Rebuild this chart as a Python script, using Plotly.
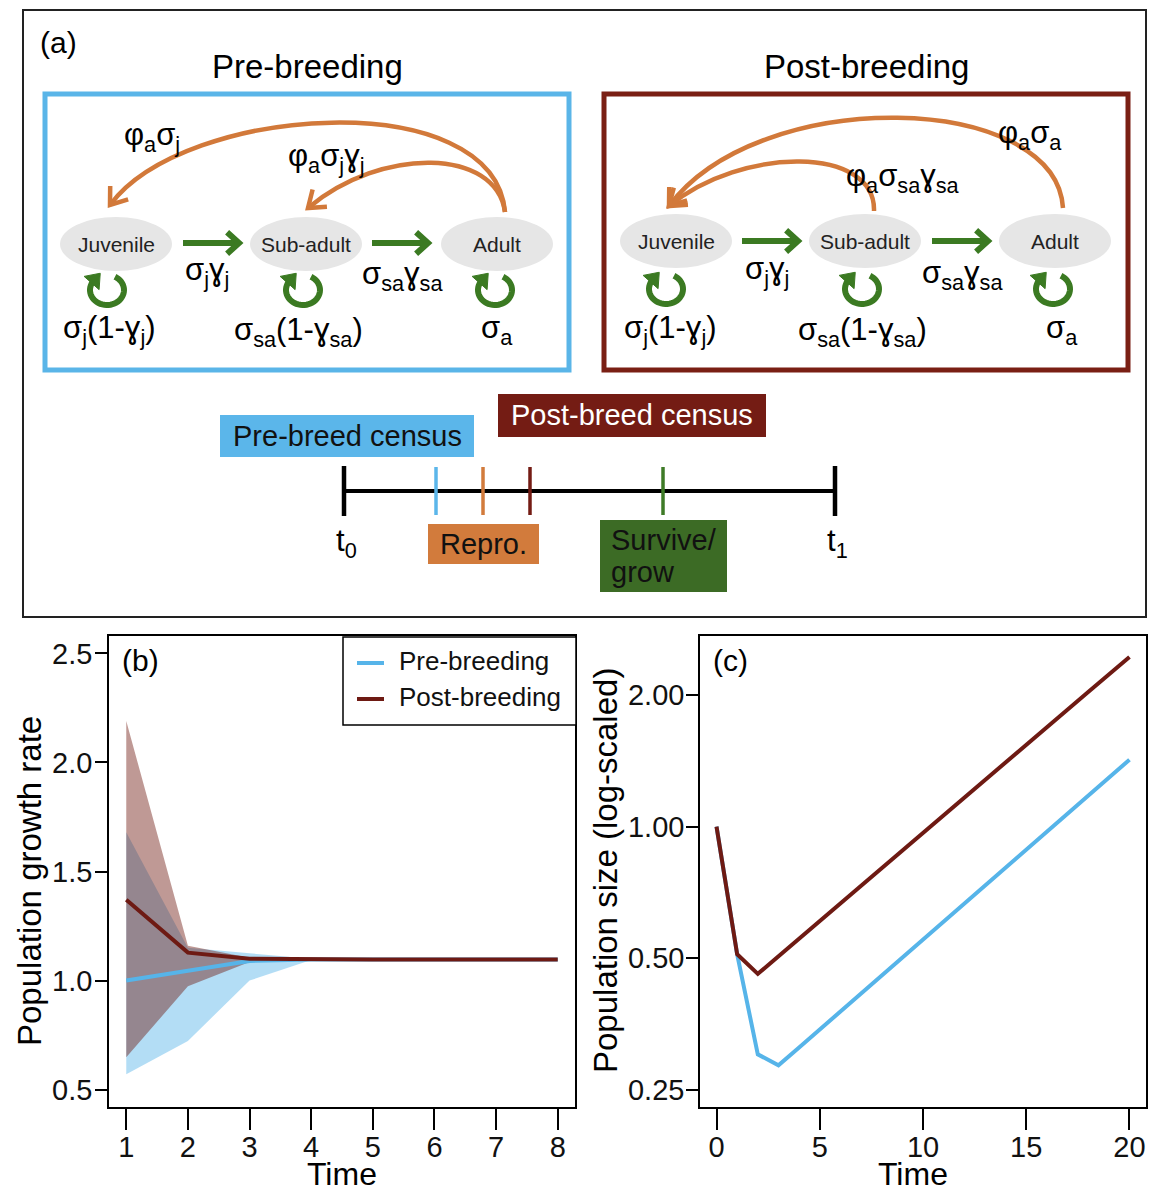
import math
import plotly.graph_objects as go

W, H = 1158, 1200          # reference canvas (pixels)
OFF = 8                    # page body margin
FW, FH = W - 2 * OFF, H - 2 * OFF
FONT = "Arial, 'Liberation Sans', Helvetica, sans-serif"

BLUE = "#56B4E9"
DRED = "#6E1A13"
ORANGE = "#D2793A"
GREEN = "#3B7A22"
ELL = "#E6E6E6"

# ---------------- data ----------------
time_b = [1, 2, 3, 4, 5, 6, 7, 8]
pre_mean = [1.00, 1.045, 1.09, 1.096, 1.096, 1.096, 1.096, 1.096]
pre_low = [0.57, 0.723, 1.00, 1.094, 1.096, 1.096, 1.096, 1.096]
pre_high = [1.68, 1.15, 1.125, 1.10, 1.096, 1.096, 1.096, 1.096]
post_mean = [1.37, 1.128, 1.10, 1.096, 1.096, 1.096, 1.096, 1.096]
post_low = [0.648, 0.974, 1.085, 1.096, 1.096, 1.096, 1.096, 1.096]
post_high = [2.19, 1.16, 1.105, 1.097, 1.096, 1.096, 1.096, 1.096]

time_c = list(range(0, 21))
pre_size = [1.00, 0.51, 0.301, 0.284, 0.312, 0.343, 0.377, 0.415, 0.456, 0.501,
            0.551, 0.606, 0.666, 0.733, 0.805, 0.886, 0.974, 1.071, 1.177, 1.294, 1.423]
post_size = [1.00, 0.51, 0.46, 0.505, 0.554, 0.608, 0.667, 0.732, 0.803, 0.882,
             0.967, 1.061, 1.165, 1.278, 1.403, 1.539, 1.689, 1.853, 2.034, 2.230, 2.447]

b_yticks = [0.5, 1.0, 1.5, 2.0, 2.5]
b_yticktext = ["0.5", "1.0", "1.5", "2.0", "2.5"]
c_yticks = [0.25, 0.5, 1.0, 2.0]
c_yticktext = ["0.25", "0.50", "1.00", "2.00"]
c_xticks = [0, 5, 10, 15, 20]

stages = ["Juvenile", "Sub-adult", "Adult"]
legend_names = ["Pre-breeding", "Post-breeding"]


# ---------------- helpers (page pixel -> paper) ----------------
def px(x):
    return (x - OFF) / FW


def py(y):
    return 1 - (y - OFF) / FH


def P(x, y):
    return f"{px(x):.5f},{py(y):.5f}"


shapes = []
annotations = []


def rect(x0, y0, x1, y1, line=None, lw=0, fill=None):
    shapes.append(dict(type="rect", xref="paper", yref="paper",
                       x0=px(x0), x1=px(x1), y0=py(y1), y1=py(y0),
                       line=dict(color=line or "rgba(0,0,0,0)", width=lw),
                       fillcolor=fill or "rgba(0,0,0,0)", layer="above"))


def ellipse(cx, cy, rx, ry, fill):
    shapes.append(dict(type="circle", xref="paper", yref="paper",
                       x0=px(cx - rx), x1=px(cx + rx), y0=py(cy + ry), y1=py(cy - ry),
                       line=dict(width=0, color="rgba(0,0,0,0)"), fillcolor=fill, layer="above"))


def pathshape(d, color, lw, fill=None):
    shapes.append(dict(type="path", xref="paper", yref="paper", path=d,
                       line=dict(color=color, width=lw),
                       fillcolor=fill or "rgba(0,0,0,0)", layer="above"))


def segment(x0, y0, x1, y1, color, lw):
    pathshape(f"M {P(x0, y0)} L {P(x1, y1)}", color, lw)


def chevron(tip, d, color, lw, L=16, ang=38):
    pts = []
    for s in (1, -1):
        a = math.radians(ang * s)
        rx_, ry_ = -d[0], -d[1]
        bx = rx_ * math.cos(a) - ry_ * math.sin(a)
        by = rx_ * math.sin(a) + ry_ * math.cos(a)
        pts.append((tip[0] + L * bx, tip[1] + L * by))
    pathshape(f"M {P(*pts[0])} L {P(*tip)} L {P(*pts[1])}", color, lw)


def bezier_arrow(p0, p1, p2, p3, color, lw=4.5):
    pathshape(f"M {P(*p0)} C {P(*p1)} {P(*p2)} {P(*p3)}", color, lw)
    dx, dy = p3[0] - p2[0], p3[1] - p2[1]
    n = math.hypot(dx, dy)
    chevron(p3, (dx / n, dy / n), color, lw, L=19, ang=36)


def straight_arrow(x0, x1, y, color=GREEN, lw=6):
    segment(x0, y, x1 - 2, y, color, lw)
    chevron((x1, y), (1, 0), color, lw, L=16, ang=42)


def loop(cx, cy=290, rx=17, ry=15, color=GREEN, lw=6):
    pts = []
    for i in range(41):
        a = math.radians(-62 + i * 280 / 40)
        pts.append((cx + rx * math.cos(a), cy + ry * math.sin(a)))
    pathshape("M " + " L ".join(P(x, y) for x, y in pts), color, lw)
    a = math.radians(218)
    tx, ty = -rx * math.sin(a), ry * math.cos(a)
    n = math.hypot(tx, ty)
    tx, ty = tx / n, ty / n
    ex, ey = pts[-1]
    tip = (ex + tx * 10, ey + ty * 10)
    b1 = (ex - tx * 3 + ty * 10, ey - ty * 3 - tx * 10)
    b2 = (ex - tx * 3 - ty * 10, ey - ty * 3 + tx * 10)
    pathshape(f"M {P(*tip)} L {P(*b1)} L {P(*b2)} Z", color, 1, fill=color)


def text(x, y, s, size, color="black", xanchor="center", align="center", angle=0):
    annotations.append(dict(x=px(x), y=py(y), xref="paper", yref="paper", text=s,
                            showarrow=False, xanchor=xanchor, yanchor="middle", align=align,
                            textangle=angle,
                            font=dict(size=size, color=color, family=FONT)))


# ---------------- panel (a) ----------------
rect(23, 10, 1146, 617, line="#222222", lw=2)
text(59, 42, "(a)", 30)
text(307, 66, "Pre-breeding", 33)
text(866, 66, "Post-breeding", 33)

rect(45, 94, 569, 370, line="#5AB5E8", lw=5)
rect(604, 94, 1128, 370, line="#7A1F14", lw=5)

pre_cx = [116, 306, 497]
post_cx = [676, 865, 1055]
for cx, name in zip(pre_cx, stages):
    ellipse(cx, 244, 56, 27, ELL)
    text(cx, 244, name, 21, color="#222222")
for cx, name in zip(post_cx, stages):
    ellipse(cx, 241, 56, 27, ELL)
    text(cx, 241, name, 21, color="#222222")

# green transitions
straight_arrow(183, 239, 243)
straight_arrow(372, 428, 243)
straight_arrow(742, 798, 241)
straight_arrow(932, 988, 241)

for cx in [107, 303, 495]:
    loop(cx)
for cx in [666, 862, 1053]:
    loop(cx, cy=289)

# orange fecundity arcs
bezier_arrow((505, 212), (494, 84), (185, 104), (110, 205), ORANGE)
bezier_arrow((505, 212), (496, 148), (382, 146), (308, 208), ORANGE)
bezier_arrow((1063, 208), (1056, 92), (760, 84), (669, 206), ORANGE)
bezier_arrow((874, 211), (876, 146), (742, 146), (669, 206), ORANGE)

SZ = 31
text(152, 137, "φ<sub>a</sub>σ<sub>j</sub>", SZ)
text(326, 158, "φ<sub>a</sub>σ<sub>j</sub>ɣ<sub>j</sub>", SZ)
text(207, 272, "σ<sub>j</sub>ɣ<sub>j</sub>", SZ)
text(402, 276, "σ<sub>sa</sub>ɣ<sub>sa</sub>", SZ)
text(110, 330, "σ<sub>j</sub>(1-ɣ<sub>j</sub>)", SZ)
text(298, 332, "σ<sub>sa</sub>(1-ɣ<sub>sa</sub>)", SZ)
text(497, 330, "σ<sub>a</sub>", SZ)

text(1030, 135, "φ<sub>a</sub>σ<sub>a</sub>", SZ)
text(903, 178, "φ<sub>a</sub>σ<sub>sa</sub>ɣ<sub>sa</sub>", SZ)
text(767, 271, "σ<sub>j</sub>ɣ<sub>j</sub>", SZ)
text(962, 275, "σ<sub>sa</sub>ɣ<sub>sa</sub>", SZ)
text(670, 330, "σ<sub>j</sub>(1-ɣ<sub>j</sub>)", SZ)
text(862, 332, "σ<sub>sa</sub>(1-ɣ<sub>sa</sub>)", SZ)
text(1062, 330, "σ<sub>a</sub>", SZ)

# timeline
rect(220, 415, 474, 457, fill="#5BB6EA")
text(347, 436, "Pre-breed census", 29, color="#111111")
rect(498, 394, 766, 437, fill="#741C14")
text(632, 415, "Post-breed census", 29, color="white")
rect(428, 524, 539, 564, fill="#D27B3C")
text(483, 544, "Repro.", 29, color="#111111")
rect(600, 520, 727, 592, fill="#3C6B25")
text(609, 540, "Survive/", 29, color="#111111", xanchor="left", align="left")
text(609, 572, "grow", 29, color="#111111", xanchor="left", align="left")

segment(344, 491, 835, 491, "black", 4)
segment(344, 466, 344, 516, "black", 4.5)
segment(835, 466, 835, 516, "black", 4.5)
segment(436, 467, 436, 515, "#5BB6EA", 3.5)
segment(483, 467, 483, 515, "#D27B3C", 3.5)
segment(530, 467, 530, 515, "#741C14", 3.5)
segment(663, 467, 663, 515, "#3E7B27", 3.5)
text(346, 543, "t<sub>0</sub>", 31)
text(837, 543, "t<sub>1</sub>", 31)

# ---------------- panels (b) and (c) ----------------
fig = go.Figure()

fig.add_trace(go.Scatter(x=time_b + time_b[::-1], y=pre_high + pre_low[::-1], fill="toself",
                         fillcolor="rgba(86,180,233,0.45)", line=dict(width=0),
                         mode="lines", hoverinfo="skip", showlegend=False, xaxis="x", yaxis="y"))
fig.add_trace(go.Scatter(x=time_b + time_b[::-1], y=post_high + post_low[::-1], fill="toself",
                         fillcolor="rgba(112,28,20,0.45)", line=dict(width=0),
                         mode="lines", hoverinfo="skip", showlegend=False, xaxis="x", yaxis="y"))
fig.add_trace(go.Scatter(x=time_b, y=pre_mean, mode="lines", name=legend_names[0], showlegend=False,
                         line=dict(color=BLUE, width=4), xaxis="x", yaxis="y"))
fig.add_trace(go.Scatter(x=time_b, y=post_mean, mode="lines", name=legend_names[1], showlegend=False,
                         line=dict(color=DRED, width=4), xaxis="x", yaxis="y"))

fig.add_trace(go.Scatter(x=time_c, y=pre_size, mode="lines", showlegend=False,
                         line=dict(color=BLUE, width=4), xaxis="x2", yaxis="y2"))
fig.add_trace(go.Scatter(x=time_c, y=post_size, mode="lines", showlegend=False,
                         line=dict(color=DRED, width=4), xaxis="x2", yaxis="y2"))

axis_common = dict(showline=True, mirror=True, linecolor="black", linewidth=1.5,
                   ticks="outside", tickcolor="black", tickwidth=1.5, showgrid=False,
                   zeroline=False, tickfont=dict(size=29, family=FONT, color="#111111"))

y_top, y_bot = 636, 1107
fig.update_layout(
    xaxis=dict(domain=[px(109), px(575)], range=[0.72, 8.28], tickvals=time_b, ticklen=21,
               ticklabelstandoff=-8, anchor="y", **axis_common),
    yaxis=dict(domain=[py(y_bot), py(y_top)], range=[0.42, 2.58], tickvals=b_yticks,
               ticktext=b_yticktext, ticklen=12, ticklabelstandoff=-3, anchor="x", **axis_common),
    xaxis2=dict(domain=[px(700), px(1146)], range=[-0.8, 20.8], tickvals=c_xticks, ticklen=21,
                ticklabelstandoff=-8, anchor="y2", **axis_common),
    yaxis2=dict(domain=[py(y_bot), py(y_top)], type="log",
                range=[math.log10(2 ** -2.133), math.log10(2 ** 1.45)],
                tickvals=c_yticks, ticktext=c_yticktext, ticklen=12, ticklabelstandoff=-4,
                anchor="x2", **axis_common),
)

# manual legend for panel (b)
rect(343, 637, 576, 725, line="black", lw=1.5, fill="white")
segment(357, 663, 384, 663, BLUE, 4)
segment(357, 699, 384, 699, DRED, 4)
text(397, 661, legend_names[0], 26, color="#111111", xanchor="left")
text(397, 697, legend_names[1], 26, color="#111111", xanchor="left")

text(140, 660, "(b)", 30)
text(730, 660, "(c)", 30)
text(342, 1174, "Time", 32)
text(913, 1174, "Time", 32)
text(30, 881, "Population growth rate", 33, angle=-90)
text(605, 871, "Population size (log-scaled)", 33, angle=-90)

fig.update_layout(
    width=FW, height=FH, autosize=False,
    margin=dict(l=0, r=0, t=0, b=0),
    paper_bgcolor="white", plot_bgcolor="white",
    shapes=shapes, annotations=annotations,
    showlegend=False,
    font=dict(family=FONT),
)

fig.write_html("out.html")
